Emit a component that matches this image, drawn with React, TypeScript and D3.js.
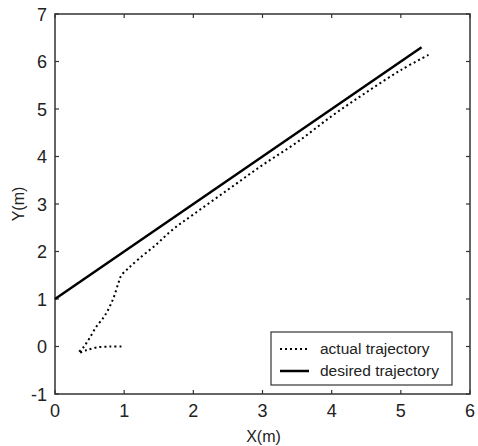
import React, { useEffect, useRef } from 'react';
import * as d3 from 'd3';

// desired trajectory y = x + 1
const desiredX = [0, 5.3];
const desiredY = [1, 6.3];

// actual trajectory
const actualX = [0.96, 0.8, 0.6, 0.45, 0.34, 0.42, 0.5, 0.6, 0.72, 0.84, 0.92, 0.96, 1.05, 1.2, 1.45, 1.7, 2.0, 2.5, 3.0, 3.5, 4.0, 4.5, 5.0, 5.4];
const actualY = [0.0, 0.0, -0.02, -0.08, -0.13, 0.0, 0.18, 0.42, 0.65, 1.0, 1.35, 1.5, 1.63, 1.83, 2.13, 2.46, 2.78, 3.3, 3.82, 4.3, 4.85, 5.35, 5.82, 6.14];

const xTicks = [0, 1, 2, 3, 4, 5, 6];
const yTicks = [-1, 0, 1, 2, 3, 4, 5, 6, 7];
const legendLabels = ['actual trajectory', 'desired trajectory'];

export default function App() {
  const ref = useRef<SVGSVGElement>(null);

  useEffect(() => {
    const svg = d3.select(ref.current);
    svg.selectAll('*').remove();

    const left = 55, right = 470, top = 14, bottom = 394;
    const x = d3.scaleLinear().domain([0, 6]).range([left, right]);
    const y = d3.scaleLinear().domain([-1, 7]).range([bottom, top]);
    const font = 'Arial, "Liberation Sans", sans-serif';
    const axisColor = '#333';

    // box
    svg.append('rect')
      .attr('x', left).attr('y', top)
      .attr('width', right - left).attr('height', bottom - top)
      .attr('fill', 'white').attr('stroke', axisColor).attr('stroke-width', 1.5);

    // ticks, inward on all four sides
    const tk = 4;
    const tg = svg.append('g').attr('stroke', axisColor).attr('stroke-width', 1.2);
    xTicks.forEach((t) => {
      tg.append('line').attr('x1', x(t)).attr('x2', x(t)).attr('y1', bottom).attr('y2', bottom - tk);
      tg.append('line').attr('x1', x(t)).attr('x2', x(t)).attr('y1', top).attr('y2', top + tk);
    });
    yTicks.forEach((t) => {
      tg.append('line').attr('x1', left).attr('x2', left + tk).attr('y1', y(t)).attr('y2', y(t));
      tg.append('line').attr('x1', right).attr('x2', right - tk).attr('y1', y(t)).attr('y2', y(t));
    });

    svg.append('g').selectAll('text').data(xTicks).enter().append('text')
      .attr('x', (d) => x(d)).attr('y', bottom + 23)
      .attr('text-anchor', 'middle').attr('font-family', font).attr('font-size', 18)
      .attr('fill', '#222').text((d) => d);

    svg.append('g').selectAll('text').data(yTicks).enter().append('text')
      .attr('x', left - 8).attr('y', (d) => y(d) + 6.5)
      .attr('text-anchor', 'end').attr('font-family', font).attr('font-size', 18)
      .attr('fill', '#222').text((d) => d);

    svg.append('text').attr('x', (left + right) / 2 + 1).attr('y', 442)
      .attr('text-anchor', 'middle').attr('font-family', font).attr('font-size', 16)
      .attr('fill', '#222').text('X(m)');

    svg.append('text').attr('transform', `translate(24, ${(top + bottom) / 2}) rotate(-90)`)
      .attr('text-anchor', 'middle').attr('font-family', font).attr('font-size', 16)
      .attr('fill', '#222').text('Y(m)');

    const line = d3.line<[number, number]>().x((d) => x(d[0])).y((d) => y(d[1]));
    const smooth = d3.line<[number, number]>().x((d) => x(d[0])).y((d) => y(d[1]))
      .curve(d3.curveCatmullRom.alpha(0.5));

    svg.append('path')
      .datum(desiredX.map((v, i) => [v, desiredY[i]] as [number, number]))
      .attr('d', line).attr('fill', 'none').attr('stroke', '#000').attr('stroke-width', 2.5);

    svg.append('path')
      .datum(actualX.map((v, i) => [v, actualY[i]] as [number, number]))
      .attr('d', smooth).attr('fill', 'none').attr('stroke', '#000').attr('stroke-width', 2)
      .attr('stroke-dasharray', '2,3');

    // legend
    const lg = svg.append('g').attr('transform', 'translate(271, 332)');
    lg.append('rect').attr('width', 181).attr('height', 53)
      .attr('fill', 'white').attr('stroke', axisColor).attr('stroke-width', 1.2);
    legendLabels.forEach((lab, i) => {
      const ly = 17 + i * 22;
      lg.append('line').attr('x1', 9).attr('x2', 38).attr('y1', ly).attr('y2', ly)
        .attr('stroke', '#000').attr('stroke-width', i === 0 ? 2 : 2.5)
        .attr('stroke-dasharray', i === 0 ? '2,3' : null);
      lg.append('text').attr('x', 49).attr('y', ly + 5)
        .attr('font-family', font).attr('font-size', 15.5).attr('fill', '#222').text(lab);
    });
  }, []);

  return (
    <svg ref={ref} width={478} height={446}
      style={{ position: 'absolute', left: 0, top: 0, background: 'white' }} />
  );
}
